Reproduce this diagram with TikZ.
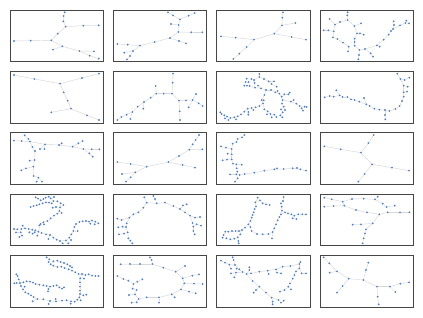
\documentclass[tikz,border=0pt]{standalone}
\usetikzlibrary{backgrounds}
\definecolor{dotblue}{RGB}{84,128,190}
\definecolor{edgegray}{RGB}{215,215,215}
\definecolor{framegray}{RGB}{70,70,70}
\tikzset{
  dot/.style={circle,fill=dotblue,inner sep=0pt,minimum size=2.1pt},
  edge/.style={draw=edgegray,line width=0.45pt},
  frame/.style={draw=framegray,line width=0.8pt},
  zoomsc/.style={x=0.333333pt,y=-0.333333pt}
}
\newcommand\gtree[2]{%
  \foreach \n/\x/\y/\p in {#2}{\node[dot] (#1-\n) at (\x,\y) {};}
  \begin{pgfonlayer}{background}
    \foreach \n/\x/\y/\p in {#2}{\ifnum\p>0 \draw[edge] (#1-\n) -- (#1-\p);\fi}
  \end{pgfonlayer}}
\begin{document}
\begin{tikzpicture}[x=1pt,y=-1pt]
\useasboundingbox (0,0) rectangle (423,317);
\begin{pgfonlayer}{background}
\fill[white] (0,0) rectangle (423,317);
\end{pgfonlayer}
% ---------- rows 1-2, cols 1-2
\begin{scope}[zoomsc]
\gtree{pa}{1/154/121/0,2/173/101/1,3/197/80/2,4/190/64/3,5/191/48/4,6/194/37/5,7/250/77/3,8/296/76/7,9/92/122/1,10/42/123/9,11/187/139/1,12/159/149/11,13/238/153/11,14/282/154/13,15/269/167/13,16/296/176/15}
\gtree{pb}{1/535/96/0,2/536/75/1,3/540/58/2,4/519/46/3,5/504/37/4,6/566/47/3,7/584/39/6,8/513/72/2,9/574/97/1,10/607/97/9,11/510/114/1,12/537/123/11,13/558/130/12,14/464/126/11,15/420/137/14,16/383/134/15,17/352/132/16,18/399/153/15,19/373/158/18,20/390/168/18,21/381/178/20}
\gtree{pe}{1/180/251/0,2/103/237/1,3/42/225/2,4/246/234/1,5/297/221/4,6/191/277/1,7/203/302/6,8/213/326/7,9/154/337/8,10/261/346/8,11/297/360/10}
\gtree{pf}{1/516/281/0,2/518/248/1,3/519/221/2,4/491/281/1,5/469/281/4,6/467/258/5,7/452/293/5,8/432/306/7,9/430/326/8,10/413/320/8,11/397/336/10,12/391/357/11,13/380/344/11,14/364/351/13,15/352/360/14,16/537/302/1,17/539/334/16,18/540/360/17,19/558/301/16,20/578/300/19,21/566/322/20,22/588/282/20,23/596/310/20,24/608/318/23}
\end{scope}
% ---------- rows 1-2, cols 3-4
\begin{scope}[shift={(211pt,0pt)},zoomsc]
\gtree{pc}{1/190/101/0,2/213/76/1,3/214/53/2,4/216/37/3,5/253/69/2,6/242/111/1,7/285/119/6,8/129/119/1,9/74/113/8,10/30/109/9,11/107/141/8,12/85/161/11,13/67/177/12}
\gtree{pd}{1/445/150/0,2/431/137/1,3/431/126/2,4/431/116/3,5/438/100/4,6/447/100/5,7/458/104/6,8/430/78/5,9/450/70/8,10/410/60/8,11/409/46/10,12/410/37/11,13/387/66/10,14/372/74/13,15/356/57/14,16/368/94/14,17/352/91/16,18/338/91/17,19/366/112/16,20/379/117/19,21/396/128/20,22/413/140/21,23/411/154/22,24/444/165/1,25/442/178/24,26/462/147/1,27/479/160/26,28/486/170/27,29/498/136/26,30/506/140/29,31/518/119/29,32/533/104/31,33/540/93/32,34/546/87/33,35/549/75/34,36/548/64/35,37/567/76/34,38/583/69/37,39/594/70/38,40/586/62/38}
\gtree{pg}{1/165/270/0,2/150/265/1,3/132/263/2,4/116/258/3,5/108/257/4,6/100/257/5,7/113/246/4,8/104/246/7,9/131/249/3,10/129/240/9,11/121/237/10,12/107/236/11,13/145/231/10,14/145/222/13,15/159/237/13,16/173/244/15,17/189/244/16,18/182/252/16,19/197/260/18,20/141/257/2,21/180/270/1,22/193/277/21,23/200/273/22,24/205/281/22,25/212/290/24,26/220/283/25,27/232/283/26,28/236/278/27,29/215/300/25,30/240/305/29,31/248/300/30,32/256/311/30,33/266/318/32,34/272/325/33,35/276/332/34,36/281/320/33,37/287/321/36,38/213/311/29,39/218/320/38,40/210/328/39,41/215/337/40,42/208/346/41,43/214/352/42,44/222/330/39,45/160/285/1,46/152/300/45,47/156/310/46,48/158/301/46,49/145/318/47,50/134/322/49,51/122/324/50,52/110/326/51,53/112/336/52,54/112/344/53,55/100/335/52,56/90/343/55,57/80/349/56,58/70/352/57,59/58/354/58,60/52/360/59,61/48/350/59,62/40/346/61,63/42/355/62,64/32/342/62,65/28/337/64,66/160/328/47,67/170/334/66,68/178/342/67,69/190/344/68,70/196/351/69,71/182/352/68,72/168/343/67,73/127/330/51,74/75/358/58}
\gtree{ph}{1/505/329/0,2/490/326/1,3/476/318/2,4/466/313/3,5/459/294/4,6/445/305/4,7/431/300/6,8/420/298/7,9/409/291/8,10/395/291/9,11/386/286/10,12/376/271/11,13/368/290/11,14/356/288/13,15/341/292/14,16/522/330/1,17/522/345/16,18/523/358/17,19/535/333/16,20/553/327/19,21/566/318/20,22/573/303/21,23/578/290/22,24/578/277/23,25/588/275/24,26/578/257/24,27/590/260/26,28/568/237/26,29/581/240/28,30/595/233/29,31/559/221/28}
\end{scope}
% ---------- rows 3-4, cols 1-2
\begin{scope}[shift={(0pt,-125pt)},zoomsc]
\gtree{pi}{1/90/50/0,2/85/42/1,3/74/31/2,4/65/48/1,5/42/47/4,6/97/66/1,7/105/78/6,8/104/105/7,9/89/107/8,10/100/125/8,11/78/130/10,12/64/136/11,13/101/153/10,14/115/158/13,15/110/170/14,16/126/170/14,17/135/58/1,18/120/72/17,19/133/72/17,20/177/60/17,21/185/55/20,22/218/65/20,23/235/55/22,24/248/48/23,25/250/72/22,26/275/73/25,27/298/73/26,28/268/85/25,29/278/95/28}
\gtree{pj}{1/505/111/0,2/537/93/1,3/568/74/2,4/578/58/3,5/587/45/4,6/597/30/5,7/607/73/3,8/548/120/1,9/585/128/8,10/440/125/1,11/392/117/10,12/352/111/11,13/406/142/10,14/392/157/13,15/378/170/14,16/366/147/13}
\gtree{pm}{1/150/330/0,2/138/328/1,3/125/324/2,4/115/320/3,5/106/316/4,6/97/314/5,7/86/312/6,8/75/310/7,9/64/312/8,10/52/313/9,11/42/312/10,12/68/302/8,13/62/322/9,14/66/332/13,15/58/336/14,16/48/322/13,17/88/322/6,18/98/326/17,19/104/322/5,20/112/332/4,21/122/297/4,22/130/292/21,23/142/288/22,24/152/280/23,25/162/272/24,26/172/266/25,27/178/258/26,28/185/264/27,29/180/247/27,30/190/240/29,31/182/235/29,32/172/229/31,33/160/228/32,34/152/220/33,35/146/215/34,36/137/218/35,37/130/222/36,38/122/226/37,39/114/221/38,40/107/217/39,41/155/235/33,42/147/233/41,43/138/232/42,44/128/235/43,45/118/238/44,46/110/241/45,47/101/243/46,48/92/246/47,49/168/246/29,50/158/248/49,51/118/301/21,52/132/298/22,53/145/342/1,54/160/338/1,55/170/344/54,56/180/348/55,57/188/355/56,58/198/346/56,59/208/338/58,60/214/328/59,61/220/318/60,62/223/306/61,63/228/297/62,64/238/291/63,65/248/289/64,66/258/288/65,67/267/290/66,68/276/287/67,69/286/290/68,70/295/295/69,71/284/298/69,72/271/296/67,73/233/318/61,74/205/355/58,75/213/345/59,76/162/216/34}
\gtree{pn}{1/470/235/0,2/465/222/1,3/460/213/2,4/440/233/1,5/433/217/4,6/430/248/4,7/415/262/6,8/400/268/7,9/388/278/8,10/365/285/9,11/352/281/10,12/380/295/9,13/378/306/12,14/368/305/13,15/355/307/14,16/383/322/13,17/372/326/16,18/357/328/17,19/385/340/16,20/391/347/19,21/397/355/20,22/495/233/1,23/520/243/22,24/540/252/23,25/549/241/24,26/560/238/25,27/555/262/24,28/570/272/27,29/585/278/28,30/600/276/29,31/578/294/28,32/580/305/31,33/590/298/32,34/603/302/33,35/580/318/32,36/584/328/35}
\end{scope}
% ---------- rows 3-4, cols 3-4
\begin{scope}[shift={(211pt,-125pt)},zoomsc]
\gtree{pk}{1/100/30/0,2/93/37/1,3/80/42/2,4/76/51/3,5/65/56/4,6/62/72/5,7/45/68/6,8/30/64/7,9/62/88/6,10/50/86/9,11/62/103/9,12/48/104/11,13/35/106/12,14/66/116/11,15/76/118/14,16/92/119/15,17/77/130/15,18/79/140/17,19/76/148/18,20/57/148/19,21/80/160/19,22/72/170/21,23/86/150/19,24/101/147/23,25/130/143/24,26/160/137/25,27/190/133/26,28/198/130/27,29/218/132/27,30/245/130/29,31/258/129/30,32/268/133/30,33/285/137/32}
\gtree{pl}{1/450/83/0,2/472/54/1,3/488/30/2,4/389/73/1,5/340/64/4,6/483/118/1,7/543/128/6,8/594/137/7,9/461/147/6,10/442/170/9}
\gtree{po}{1/122/278/0,2/125/270/1,3/128/262/2,4/131/252/3,5/135/244/4,6/133/232/5,7/140/218/6,8/147/226/6,9/155/235/8,10/165/238/9,11/176/240/10,12/118/288/1,13/112/298/12,14/118/306/13,15/102/308/13,16/93/315/15,17/84/318/16,18/74/318/17,19/63/318/18,20/52/320/19,21/43/320/20,22/38/330/21,23/35/338/22,24/88/328/16,25/80/337/24,26/70/341/25,27/58/343/26,28/46/340/27,29/82/348/25,30/83/355/29,31/122/318/14,32/138/327/31,33/155/328/32,34/172/327/33,35/185/321/34,36/183/340/35,37/190/310/35,38/195/298/37,39/200/286/38,40/205/276/39,41/210/268/40,42/213/257/41,43/212/245/42,44/210/235/43,45/216/228/44,46/218/216/45,47/222/262/41,48/231/265/47,49/241/268/48,50/250/272/49,51/262/268/50,52/274/268/51,53/285/268/52,54/245/280/50,55/256/282/54}
\gtree{pp}{1/400/242/0,2/395/230/1,3/362/223/2,4/340/218/3,5/423/222/2,6/458/221/5,7/492/223/6,8/500/215/7,9/515/236/7,10/527/246/9,11/551/242/10,12/368/243/1,13/340/245/12,14/435/255/1,15/468/262/14,16/505/268/15,17/530/262/16,18/567/262/17,19/595/262/18,20/485/295/16,21/450/298/20,22/425/299/21,23/465/313/20,24/462/325/23,25/458/340/24,26/455/355/25}
\end{scope}
% ---------- row 5, cols 1-2
\begin{scope}[shift={(0pt,-250pt)},zoomsc]
\gtree{pq}{1/240/110/0,2/240/97/1,3/236/72/2,4/226/67/3,5/216/62/4,6/206/58/5,7/194/54/6,8/184/50/7,9/172/51/8,10/160/47/9,11/152/43/10,12/146/36/11,13/148/28/12,14/140/22/13,15/160/34/11,16/172/32/15,17/182/36/16,18/192/39/17,19/202/43/18,20/210/48/19,21/216/52/20,22/246/72/3,23/256/75/22,24/266/73/23,25/276/77/24,26/286/78/25,27/296/78/26,28/252/86/22,29/240/122/1,30/240/132/29,31/238/142/30,32/250/136/30,33/259/134/32,34/232/149/31,35/242/151/31,36/224/155/34,37/213/154/36,38/212/161/37,39/200/151/37,40/186/152/39,41/168/154/40,42/167/147/41,43/150/153/41,44/146/162/43,45/130/148/43,46/112/147/45,47/101/141/46,48/93/136/47,49/85/131/48,50/76/127/49,51/69/118/50,52/63/108/51,53/60/99/52,54/56/88/53,55/53/78/54,56/49/73/55,57/50/99/53,58/43/100/57,59/70/97/53,60/80/94/59,61/90/95/60,62/99/98/61,63/107/102/62,64/118/104/63,65/130/106/64,66/140/108/65,67/150/110/66,68/160/108/67,69/170/106/68,70/178/112/69,71/186/116/70,72/192/112/71,73/145/117/67,74/144/124/73,75/74/110/51,76/98/154/46,77/241/85/2}
\gtree{pr}{1/490/53/0,2/457/42/1,3/455/30/2,4/450/22/3,5/420/42/2,6/390/42/5,7/362/43/6,8/527/65/1,9/555/48/8,10/548/85/8,11/577/77/10,12/597/73/11,13/553/100/10,14/582/101/13,15/608/102/14,16/543/118/13,17/567/125/16,18/587/130/17,19/515/133/16,20/524/142/19,21/477/142/19,22/477/158/21,23/440/142/21,24/416/147/23,25/410/157/24,26/395/158/25,27/405/133/24,28/387/135/27,29/410/120/27,30/398/116/29,31/400/102/30,32/412/95/31,33/427/88/32,34/385/92/31,35/370/87/34,36/352/78/35}
\end{scope}
% ---------- row 5, cols 3-4
\begin{scope}[shift={(211pt,-250pt)},zoomsc]
\gtree{ps}{1/107/72/0,2/95/66/1,3/85/58/2,4/72/45/3,5/68/30/4,6/65/22/5,7/55/44/4,8/42/38/7,9/30/32/8,10/60/56/7,11/77/56/3,12/75/68/2,13/60/70/12,14/70/82/12,15/115/60/1,16/115/52/15,17/120/70/1,18/145/65/17,19/170/62/18,20/173/72/19,21/195/58/19,22/198/68/21,23/210/70/22,24/215/50/21,25/238/48/24,26/265/42/25,27/268/36/26,28/265/55/26,29/272/70/28,30/285/70/29,31/255/64/28,32/250/75/31,33/245/86/32,34/237/100/33,35/232/110/34,36/240/118/35,37/220/120/35,38/207/125/37,39/125/93/1,40/145/110/39,41/135/120/40,42/128/128/41,43/165/128/40,44/182/143/43,45/185/155/44,46/185/163/45,47/202/150/44,48/210/158/47,49/218/152/48}
\gtree{pt}{1/413/86/0,2/378/64/1,3/355/40/2,4/338/22/3,5/356/68/2,6/395/108/1,7/378/128/6,8/457/90/1,9/465/60/8,10/472/38/9,11/498/110/8,12/500/140/11,13/503/163/12,14/537/110/11,15/553/126/14,16/568/101/14,17/594/97/16}
\end{scope}
% ---------- panel frames
\foreach \r in {0,...,4}{\foreach \c in {0,...,3}{
  \draw[frame] ({10+103.3*\c},{10+61.4*\r}) rectangle ++(93.3,51.5);}}
\end{tikzpicture}
\end{document}
